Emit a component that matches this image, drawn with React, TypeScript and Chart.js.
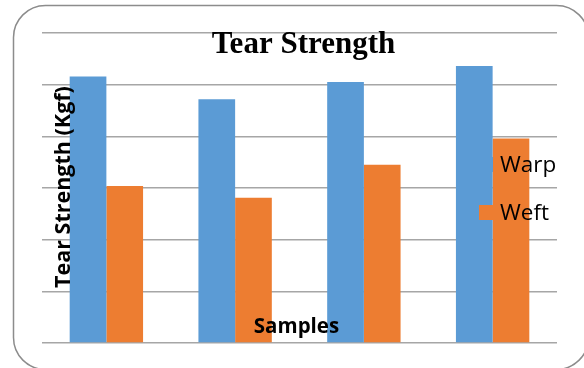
import React, { useEffect, useRef } from "react";
import { Chart, registerables } from "chart.js";

Chart.register(...registerables);

const categories = ["Sample 1", "Sample 2", "Sample 3", "Sample 4"];
const warpValues = [5.16, 4.72, 5.05, 5.36];
const weftValues = [3.04, 2.81, 3.45, 3.96];
const seriesNames = ["Warp", "Weft"];
const seriesColors = ["#5B9BD5", "#ED7D31"];
const chartTitle = "Tear Strength";
const yAxisTitle = "Tear Strength (Kgf)";
const xAxisTitle = "Samples";

const overlayPlugin = {
  id: "overlay",
  beforeDraw(chart: any) {
    const ctx = chart.ctx;
    ctx.save();
    ctx.strokeStyle = "#8c8c8c";
    ctx.lineWidth = 1.5;
    ctx.beginPath();
    (ctx as any).roundRect(13.5, 5.5, 575, 364, 32);
    ctx.stroke();
    ctx.restore();
  },
  afterDraw(chart: any) {
    const ctx = chart.ctx;
    const area = chart.chartArea;
    ctx.save();
    ctx.fillStyle = "#000";
    // Title
    ctx.font = "bold 31px 'Liberation Serif', 'Times New Roman', serif";
    ctx.textAlign = "center";
    ctx.textBaseline = "alphabetic";
    ctx.fillText(chartTitle, (area.left + area.right) / 2 + 4, 53);
    // X axis title
    ctx.font = "bold 20.5px 'Open Sans', sans-serif";
    ctx.fillText(xAxisTitle, (area.left + area.right) / 2 - 3, 333);
    // Y axis title
    ctx.save();
    ctx.translate(70, 187);
    ctx.rotate(-Math.PI / 2);
    ctx.font = "bold 21.5px 'Open Sans', sans-serif";
    ctx.textAlign = "center";
    ctx.fillText(yAxisTitle, 0, 0);
    ctx.restore();
    // Legend
    ctx.font = "22.5px 'Open Sans', sans-serif";
    ctx.textAlign = "left";
    const baselines = [172, 220];
    chart.data.datasets.forEach((ds: any, i: number) => {
      const b = baselines[i];
      ctx.fillStyle = ds.backgroundColor;
      ctx.fillRect(479, b - 15, 14, 15);
      ctx.fillStyle = "#000";
      ctx.fillText(ds.label, 500, b);
    });
    ctx.restore();
  },
};

export default function App() {
  const ref = useRef<HTMLCanvasElement>(null);
  useEffect(() => {
    if (!ref.current) return;
    const chart = new Chart(ref.current, {
      type: "bar",
      data: {
        labels: categories,
        datasets: [
          { label: seriesNames[0], data: warpValues, backgroundColor: seriesColors[0] },
          { label: seriesNames[1], data: weftValues, backgroundColor: seriesColors[1] },
        ],
      },
      options: {
        animation: false,
        responsive: false,
        devicePixelRatio: 1,
        layout: { padding: { left: 42, right: 27, top: 33, bottom: 25 } },
        plugins: { legend: { display: false }, title: { display: false }, tooltip: { enabled: false } },
        datasets: { bar: { barPercentage: 1, categoryPercentage: 0.57 } },
        scales: {
          x: { display: false },
          y: {
            min: 0,
            max: 6,
            ticks: { display: false, stepSize: 1 },
            grid: { color: "#a6a6a6", lineWidth: 1.5, drawTicks: false },
            border: { display: false },
          },
        },
      },
      plugins: [overlayPlugin],
    });
    return () => chart.destroy();
  }, []);
  return (
    <canvas
      ref={ref}
      width={584}
      height={368}
      style={{ position: "absolute", left: 0, top: 0, width: 584, height: 368, background: "#fff" }}
    />
  );
}
